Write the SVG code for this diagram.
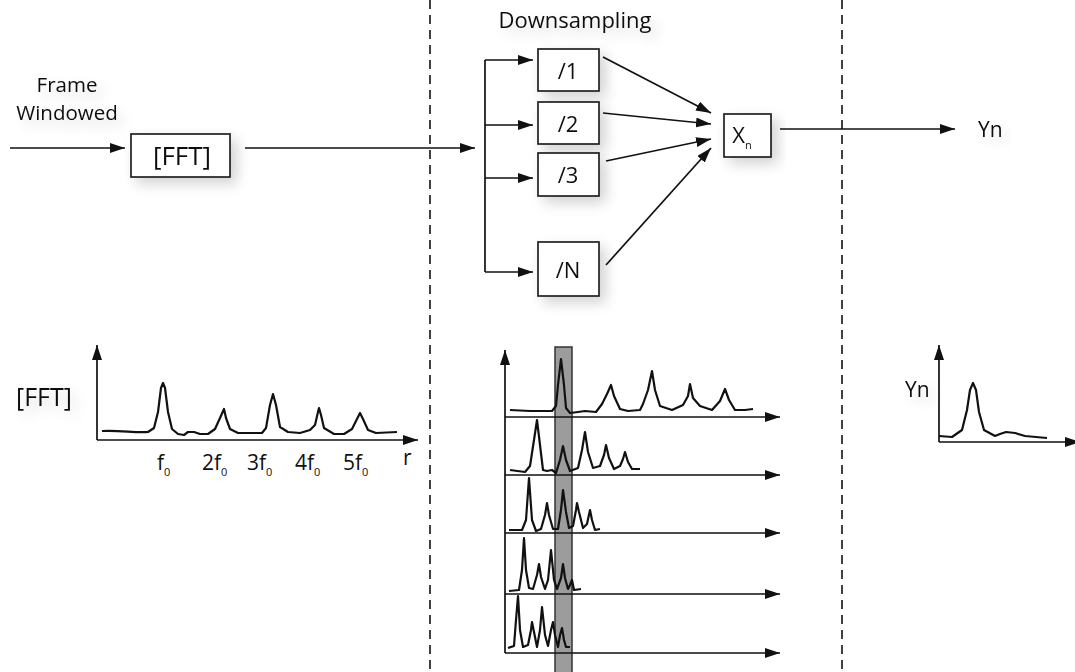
<svg xmlns="http://www.w3.org/2000/svg" width="1075" height="672" viewBox="0 0 1075 672">
<style>
text{font-family:"Open Sans","Liberation Sans",sans-serif;fill:#111}
.box{fill:#fff;stroke:#222;stroke-width:1.7}
.ln{fill:none;stroke:#111;stroke-width:1.7}
.cv{fill:none;stroke:#111;stroke-width:2.2;stroke-linejoin:round}
.dash{fill:none;stroke:#111;stroke-width:1.6;stroke-dasharray:9 6}
</style>
<defs>
<marker id="arr" markerUnits="userSpaceOnUse" markerWidth="16" markerHeight="11" refX="15" refY="5" orient="auto">
<path d="M0,0 L15,5 L0,10 z" fill="#111"/>
</marker>
<filter id="sh" x="-30%" y="-50%" width="160%" height="200%">
<feGaussianBlur in="SourceAlpha" stdDeviation="7"/>
<feOffset dx="6" dy="6"/>
<feComponentTransfer><feFuncA type="linear" slope="0.18"/></feComponentTransfer>
<feMerge><feMergeNode/><feMergeNode in="SourceGraphic"/></feMerge>
</filter>
</defs>
<rect width="1075" height="672" fill="#fff"/>

<g id="dividers">
<line class="dash" x1="430" y1="0" x2="430" y2="672"/>
<line class="dash" x1="842" y1="0" x2="842" y2="672"/>
</g>

<g id="input-label" filter="url(#sh)">
<text x="67" y="92" font-size="20.5" text-anchor="middle">Frame</text>
<text x="67" y="120" font-size="20.5" text-anchor="middle">Windowed</text>
</g>

<g id="fft" filter="url(#sh)">
<rect class="box" x="131" y="134" width="99" height="43"/>
<text x="182" y="165" font-size="26" text-anchor="middle">[FFT]</text>
</g>

<g id="downsampling-label" filter="url(#sh)">
<text x="575" y="28" font-size="22" text-anchor="middle">Downsampling</text>
</g>

<g id="div1" filter="url(#sh)">
<rect class="box" x="538" y="49" width="61" height="42"/>
<text x="568" y="79" font-size="22" text-anchor="middle">/1</text>
</g>
<g id="div2" filter="url(#sh)">
<rect class="box" x="538" y="102" width="61" height="42"/>
<text x="568" y="132" font-size="22" text-anchor="middle">/2</text>
</g>
<g id="div3" filter="url(#sh)">
<rect class="box" x="538" y="153" width="61" height="43"/>
<text x="568" y="183" font-size="22" text-anchor="middle">/3</text>
</g>
<g id="divN" filter="url(#sh)">
<rect class="box" x="538" y="242" width="61" height="54"/>
<text x="568" y="278" font-size="22" text-anchor="middle">/N</text>
</g>

<g id="xn" filter="url(#sh)">
<rect class="box" x="724" y="114" width="47" height="43"/>
<text x="742" y="143" font-size="22" text-anchor="middle">X<tspan font-size="11" dy="6">n</tspan></text>
</g>

<g id="yn-label" filter="url(#sh)">
<text x="978" y="137" font-size="21">Yn</text>
</g>

<g id="connectors">
<line class="ln" x1="10" y1="148" x2="125" y2="148" marker-end="url(#arr)"/>
<line class="ln" x1="245" y1="148" x2="475" y2="148" marker-end="url(#arr)"/>
<line class="ln" x1="485" y1="60" x2="485" y2="272"/>
<line class="ln" x1="485" y1="60" x2="533" y2="60" marker-end="url(#arr)"/>
<line class="ln" x1="485" y1="125" x2="533" y2="125" marker-end="url(#arr)"/>
<line class="ln" x1="485" y1="178" x2="533" y2="178" marker-end="url(#arr)"/>
<line class="ln" x1="485" y1="272" x2="533" y2="272" marker-end="url(#arr)"/>
<line class="ln" x1="603" y1="57" x2="711" y2="113" marker-end="url(#arr)"/>
<line class="ln" x1="603" y1="113" x2="711" y2="124" marker-end="url(#arr)"/>
<line class="ln" x1="606" y1="161" x2="711" y2="139" marker-end="url(#arr)"/>
<line class="ln" x1="606" y1="265" x2="711" y2="148" marker-end="url(#arr)"/>
<line class="ln" x1="780" y1="129" x2="955" y2="129" marker-end="url(#arr)"/>
</g>

<g id="fft-chart">
<g filter="url(#sh)">
<text x="16" y="406" font-size="25">[FFT]</text>
</g>
<line class="ln" x1="97" y1="440" x2="97" y2="345" marker-end="url(#arr)"/>
<line class="ln" x1="97" y1="440" x2="418" y2="440" marker-end="url(#arr)"/>
<path class="cv" d="M102,431 C120,430 135,433 148,432 L154,428 L158,412 L161,388 L163,383 L165,388 L168,412 L172,429 L178,434 L184,435 L188,432 L194,432 L200,434 L208,434 L215,429 L220,418 L224,409 L226,418 L230,429 L238,433 L262,433 L266,428 L270,405 L273,394 L276,405 L280,427 L288,432 L300,433 L310,430 L315,425 L318,412 L319,408 L321,415 L324,428 L334,434 L344,434 L352,429 L357,419 L360,413 L363,419 L368,430 L376,433 L397,432"/>
<text x="157" y="470" font-size="21">f<tspan font-size="11" dy="6">0</tspan></text>
<text x="202" y="470" font-size="21">2f<tspan font-size="11" dy="6">0</tspan></text>
<text x="247" y="470" font-size="21">3f<tspan font-size="11" dy="6">0</tspan></text>
<text x="295" y="470" font-size="21">4f<tspan font-size="11" dy="6">0</tspan></text>
<text x="343" y="470" font-size="21">5f<tspan font-size="11" dy="6">0</tspan></text>
<text x="403" y="465" font-size="21">r</text>
</g>

<g id="downsampled-chart">
<rect x="555" y="347" width="17" height="330" fill="#9c9c9c" stroke="#333" stroke-width="1.5"/>
<line class="ln" x1="505" y1="653" x2="505" y2="350" marker-end="url(#arr)"/>
<line class="ln" x1="505" y1="417" x2="780" y2="417" marker-end="url(#arr)"/>
<line class="ln" x1="505" y1="475" x2="780" y2="475" marker-end="url(#arr)"/>
<line class="ln" x1="505" y1="533" x2="780" y2="533" marker-end="url(#arr)"/>
<line class="ln" x1="505" y1="594" x2="780" y2="594" marker-end="url(#arr)"/>
<line class="ln" x1="505" y1="653" x2="780" y2="653" marker-end="url(#arr)"/>
<path class="cv" d="M510,410 L530,411 L552,411 L556,406 L558,385 L561,359 L564,385 L566,408 L570,413 L578,412 L585,411 L596,412 L602,404 L607,394 L611,385 L614,396 L620,409 L628,411 L640,410 L643,404 L648,390 L652,371 L655,390 L660,406 L672,410 L683,405 L688,396 L690,384 L693,398 L700,406 L712,410 L720,401 L725,389 L729,400 L735,410 L745,410 L753,409"/>
<path class="cv" d="M510,470 L525,472 L530,466 L534,440 L537,420 L540,445 L543,470 L547,471 L552,470 L556,473 L560,460 L563,446 L566,460 L570,471 L578,468 L582,450 L585,432 L588,452 L593,468 L600,466 L604,455 L606,445 L609,458 L614,469 L620,466 L623,459 L625,452 L628,462 L632,469 L640,469"/>
<path class="cv" d="M509,530 L522,530 L526,520 L529,478 L532,520 L536,531 L541,529 L545,515 L547,503 L549,515 L553,529 L558,529 L561,510 L563,490 L566,512 L569,528 L573,526 L576,510 L577,503 L579,512 L583,528 L587,524 L590,510 L592,520 L595,530 L600,529"/>
<path class="cv" d="M509,591 L519,590 L522,570 L524,538 L526,570 L529,588 L533,589 L537,575 L539,564 L541,577 L545,589 L548,580 L551,550 L554,580 L557,589 L561,578 L563,564 L565,578 L568,589 L570,585 L572,580 L574,590 L581,589"/>
<path class="cv" d="M508,648 L514,646 L516,620 L518,596 L520,630 L523,647 L528,645 L531,630 L532,622 L534,632 L537,647 L540,630 L542,607 L545,635 L548,646 L551,630 L553,622 L555,635 L558,647 L560,635 L562,628 L564,640 L566,647 L570,647"/>
</g>

<g id="yn-chart">
<g filter="url(#sh)">
<text x="905" y="397" font-size="21">Yn</text>
</g>
<line class="ln" x1="939" y1="442" x2="939" y2="345" marker-end="url(#arr)"/>
<line class="ln" x1="939" y1="442" x2="1080" y2="442" marker-end="url(#arr)"/>
<path class="cv" d="M939,436 L952,437 L962,430 L967,410 L970,390 L973,383 L976,390 L979,412 L984,430 L995,436 L1000,434 L1006,432 L1015,433 L1025,436 L1047,438"/>
</g>
</svg>
